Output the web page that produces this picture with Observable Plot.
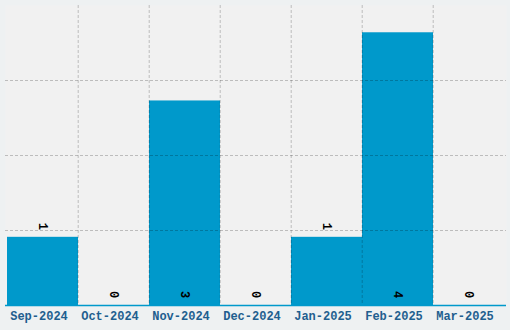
<!DOCTYPE html>
<html>
<head>
<meta charset="utf-8">
<script src="https://cdn.jsdelivr.net/npm/d3@7"></script>
<script src="https://cdn.jsdelivr.net/npm/@observablehq/plot@0.6"></script>
<style>
  html, body { margin: 0; padding: 0; background: #eef1f2; }
</style>
</head>
<body>
<div id="chart"></div>
<script>
const months = ["Sep-2024", "Oct-2024", "Nov-2024", "Dec-2024", "Jan-2025", "Feb-2025", "Mar-2025"];
const counts = [1, 0, 3, 0, 1, 4, 0];
const yMax = 4.4;
const gridTicks = [1.1, 2.2, 3.3];

const data = months.map((m, i) => ({month: m, count: counts[i]}));

const W = 510, H = 330;
const mL = 5, mR = 4, mT = 5, mB = 25;
const bw = (W - mL - mR) / months.length;
const mono = "Liberation Mono";

const chart = Plot.plot({
  width: W,
  height: H,
  marginLeft: mL,
  marginRight: mR,
  marginTop: mT,
  marginBottom: mB,
  style: {background: "#eef1f2", fontFamily: mono},
  x: {domain: months, padding: 0, label: null},
  y: {domain: [0, yMax], label: null, axis: null},
  marks: [
    Plot.frame({fill: "#f1f1f1", stroke: null}),
    Plot.barY(data, {x: "month", y: "count", fill: "#0099cb"}),
    Plot.ruleY(gridTicks, {stroke: "#000", strokeOpacity: 0.22, strokeDasharray: "3,2"}),
    Plot.ruleX(months.slice(1), {x: d => d, dx: -bw / 2, stroke: "#000", strokeOpacity: 0.22, strokeDasharray: "3,2"}),
    Plot.ruleY([0], {stroke: "#0099cb", strokeWidth: 1.5}),
    Plot.text(data, {
      x: "month",
      y: d => d.count >= 2 ? 0 : d.count,
      text: d => String(d.count),
      rotate: 90,
      dy: -11,
      fill: "#000",
      fontWeight: "bold",
      fontSize: 12,
      fontFamily: mono
    }),
    Plot.axisX({tickSize: 0, tickPadding: 6, dx: -4, fontSize: 12, fontWeight: "bold", fill: "#1f5f8f", fontFamily: mono, label: null})
  ]
});
document.getElementById("chart").appendChild(chart);
</script>
</body>
</html>
